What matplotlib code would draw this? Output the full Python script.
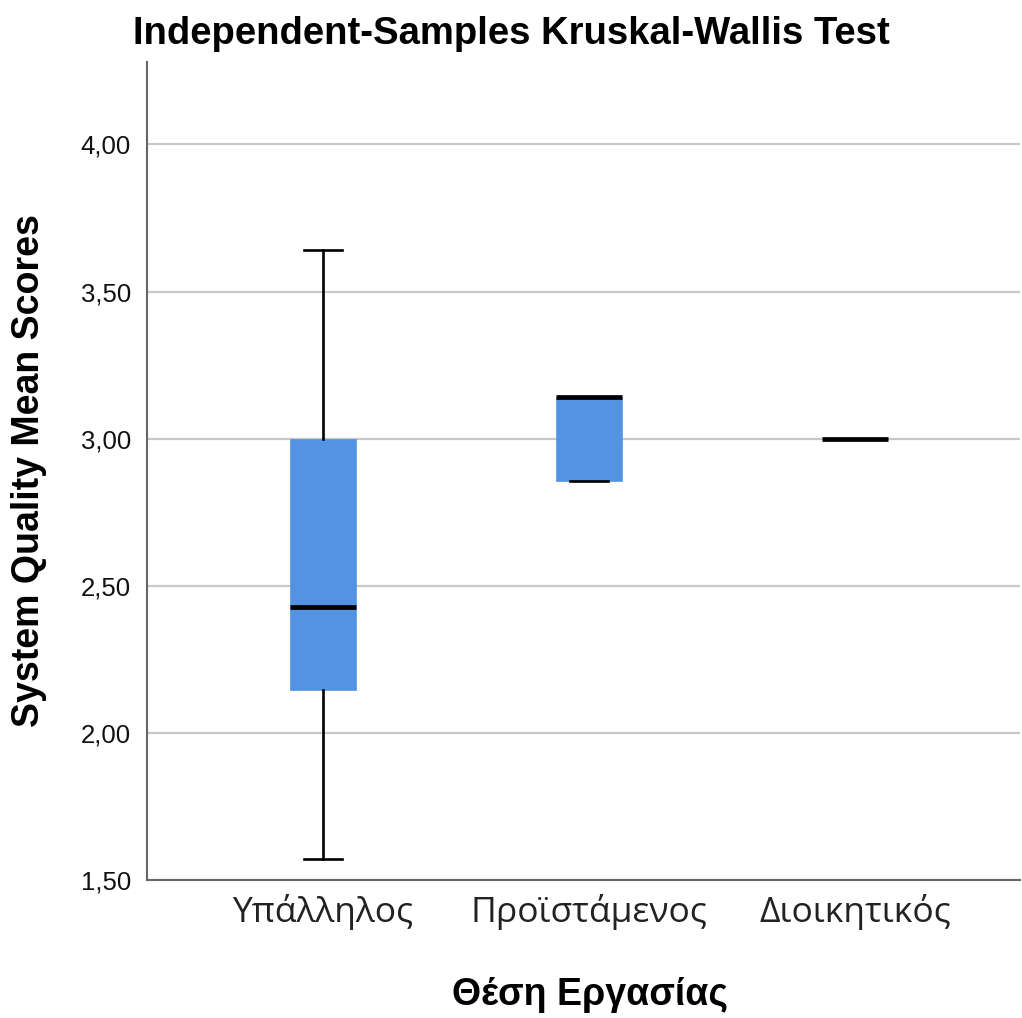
import matplotlib.pyplot as plt

# Kruskal-Wallis groups: job position vs. system quality mean scores
groups = ["Υπάλληλος", "Προϊστάμενος", "Διοικητικός"]
whisker_low = [1.57, 2.857, 3.0]
q1 = [2.146, 2.857, 3.0]
median = [2.429, 3.143, 3.0]
q3 = [3.0, 3.143, 3.0]
whisker_high = [3.643, 3.143, 3.0]
y_ticks = [1.5, 2.0, 2.5, 3.0, 3.5, 4.0]
y_tick_labels = ["1,50", "2,00", "2,50", "3,00", "3,50", "4,00"]

stats = []
for i, name in enumerate(groups):
    stats.append({
        "label": name,
        "whislo": whisker_low[i],
        "q1": q1[i],
        "med": median[i],
        "q3": q3[i],
        "whishi": whisker_high[i],
        "fliers": [],
    })

fig = plt.figure(figsize=(10.22, 10.18), dpi=100)
ax = fig.add_axes([0.1438, 0.1356, 0.8542, 0.8034])

box_color = "#5294e2"
ax.bxp(stats, positions=range(len(groups)), widths=0.25, capwidths=0.14,
       patch_artist=True, showfliers=False,
       boxprops=dict(facecolor=box_color, edgecolor=box_color, linewidth=0.5),
       medianprops=dict(color="black", linewidth=3.4, solid_capstyle="butt"),
       whiskerprops=dict(color="black", linewidth=1.9),
       capprops=dict(color="black", linewidth=1.9),
       zorder=3)

ax.set_xlim(-0.662, 2.62)
ax.set_ylim(1.5, 4.28)
ax.set_yticks(y_ticks)
ax.set_yticklabels(y_tick_labels, family="Liberation Sans", fontsize=18.5,
                   color="#111111")
ax.set_xticks(range(len(groups)))
ax.set_xticklabels(groups, family="Open Sans", fontsize=25.5, color="#222222")
ax.tick_params(length=0)
ax.tick_params(axis="y", pad=11.5)
ax.tick_params(axis="x", pad=10)

ax.yaxis.grid(True, color="#c8c8c8", linewidth=1.6, zorder=0)
ax.set_axisbelow(True)
for side in ["top", "right"]:
    ax.spines[side].set_visible(False)
for side in ["left", "bottom"]:
    ax.spines[side].set_color("#666666")
    ax.spines[side].set_linewidth(1.5)

ax.set_xlabel("Θέση Εργασίας", family="Liberation Sans", fontweight="bold",
              fontsize=27, labelpad=34)
ax.xaxis.label.set_x(0.507)
ax.set_ylabel("System Quality Mean Scores", family="Liberation Sans",
              fontweight="bold", fontsize=27, labelpad=24)
fig.text(0.5, 0.967, "Independent-Samples Kruskal-Wallis Test",
         family="Liberation Sans", fontweight="bold", fontsize=27.5,
         ha="center", va="center")

fig.savefig("out.png", dpi=100, facecolor="white")
